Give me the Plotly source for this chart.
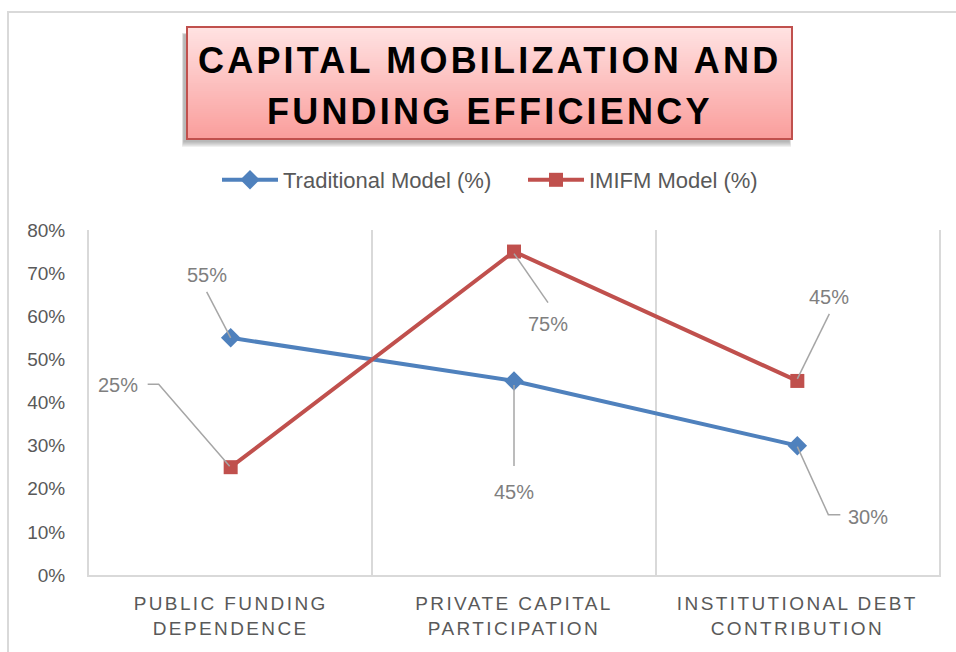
import plotly.graph_objects as go

# ---------------- data ----------------
categories = ["PUBLIC FUNDING DEPENDENCE", "PRIVATE CAPITAL PARTICIPATION", "INSTITUTIONAL DEBT CONTRIBUTION"]
category_lines = [["PUBLIC FUNDING", "DEPENDENCE"], ["PRIVATE CAPITAL", "PARTICIPATION"], ["INSTITUTIONAL DEBT", "CONTRIBUTION"]]
traditional = [55, 45, 30]
imifm = [25, 75, 45]
series_names = ["Traditional Model (%)", "IMIFM Model (%)"]
y_tick_vals = [0, 10, 20, 30, 40, 50, 60, 70, 80]
y_tick_text = ["0%", "10%", "20%", "30%", "40%", "50%", "60%", "70%", "80%"]
title_lines = ["CAPITAL MOBILIZATION AND", "FUNDING EFFICIENCY"]

# ---------------- layout geometry ----------------
W, H = 956, 652
L, R, T, B = 89, 939, 230, 575


def px(xp):
    return (xp - L) / (R - L)


def py(yp):
    return (B - yp) / (B - T)


BLUE = "#4f81bd"
RED = "#c0504d"
TXT = "#595959"
LBL = "#7f7f7f"
LEADER = "#a6a6a6"
GRID = "#d9d9d9"
FONT = "Liberation Sans"

fig = go.Figure()
fig.add_trace(go.Scatter(
    x=categories, y=traditional, name=series_names[0], mode="lines+markers",
    line=dict(color=BLUE, width=4), marker=dict(symbol="diamond", size=15, color=BLUE),
))
fig.add_trace(go.Scatter(
    x=categories, y=imifm, name=series_names[1], mode="lines+markers",
    line=dict(color=RED, width=4), marker=dict(symbol="square", size=14, color=RED),
))

sp = lambda s, ls: f'<span style="letter-spacing:{ls}px">{s}</span>'
tick_text = [sp(a, 2.4) + "<br>" + sp(b, 2.4) for a, b in category_lines]

shapes = []
annotations = []

# outer chart border
shapes.append(dict(type="rect", xref="paper", yref="paper", x0=px(8), x1=px(970), y0=py(12), y1=py(670),
                   line=dict(color=GRID, width=2), fillcolor="rgba(0,0,0,0)", layer="below"))

# title box: shadow + gradient + border
bx0, bx1, by0, by1 = 187, 792, 27, 139
for i in range(6):
    shapes.append(dict(type="rect", xref="paper", yref="paper",
                       x0=px(bx0 - 5 + i * 0.3), x1=px(bx1 - 1 - i * 0.3), y0=py(by0 + 6 + i * 0.3), y1=py(by1 + 8 - i * 1.0),
                       line=dict(width=0), fillcolor="rgba(120,120,120,0.11)"))
n = 56
top_c = (255, 226, 226)
bot_c = (250, 158, 156)
for i in range(n):
    t = i / (n - 1)
    c = tuple(int(round(top_c[k] + (bot_c[k] - top_c[k]) * t)) for k in range(3))
    ya = by0 + (by1 - by0) * i / n
    yb = by0 + (by1 - by0) * (i + 1) / n
    shapes.append(dict(type="rect", xref="paper", yref="paper", x0=px(bx0), x1=px(bx1), y0=py(ya), y1=py(yb + 0.6),
                       line=dict(width=0), fillcolor="rgb(%d,%d,%d)" % c))
shapes.append(dict(type="rect", xref="paper", yref="paper", x0=px(bx0), x1=px(bx1), y0=py(by0), y1=py(by1),
                   line=dict(color=RED, width=2), fillcolor="rgba(0,0,0,0)"))

for line_text, yc in zip(title_lines, [60, 111]):
    annotations.append(dict(xref="paper", yref="paper", x=px((bx0 + bx1) / 2), y=py(yc), xanchor="center", yanchor="middle",
                            text="<b>" + sp(line_text, 3.2) + "</b>",
                            showarrow=False, font=dict(family=FONT, size=36, color="#000000"), align="center"))

# data labels with leader lines (offsets in pixels relative to each point)
label_specs = [
    # (series values, index, label dx, label dy(up), leader path)
    (traditional, 0, -24, 63, "M0,0 L-24,46"),
    (traditional, 1, 0, -111, "M0,-4 L0,-85"),
    (traditional, 2, 71, -71, "M0,-1 L31,-69 L43,-69"),
    (imifm, 0, -113, 82, "M-1,1 L-72,83 L-83,83"),
    (imifm, 1, 34, -72, "M0,-2 L34,-51"),
    (imifm, 2, 32, 84, "M0,2 L32,67"),
]
for vals, i, dx, dy, path in label_specs:
    annotations.append(dict(x=i, y=vals[i], xref="x", yref="y", text=f"{vals[i]}%", showarrow=False,
                            xshift=dx, yshift=dy, font=dict(family=FONT, size=20, color=LBL)))
    shapes.append(dict(type="path", xref="x", yref="y", xsizemode="pixel", ysizemode="pixel",
                       xanchor=i, yanchor=vals[i], path=path, line=dict(color=LEADER, width=1.5)))

fig.update_layout(
    width=W, height=H,
    margin=dict(l=L, r=W - R, t=T, b=H - B, pad=0),
    paper_bgcolor="white", plot_bgcolor="white",
    font=dict(family=FONT, color=TXT),
    showlegend=True,
    legend=dict(orientation="h", xref="paper", yref="paper", x=px(217), y=py(180), xanchor="left", yanchor="middle",
                font=dict(family=FONT, size=22, color=TXT), itemwidth=56, entrywidth=235, entrywidthmode="pixels",
                bgcolor="rgba(0,0,0,0)", traceorder="normal", itemclick=False),
    xaxis=dict(type="category", range=[-0.5, 2.5], tickson="boundaries", showgrid=True, gridcolor=GRID, gridwidth=2,
               tickvals=categories, ticktext=tick_text, ticks="", showline=True, linecolor=GRID, linewidth=2,
               ticklabelstandoff=10,
               tickfont=dict(family=FONT, size=19, color=TXT), zeroline=False, fixedrange=True),
    yaxis=dict(range=[0, 80], tickvals=y_tick_vals, ticktext=y_tick_text, showgrid=False, zeroline=False,
               showline=True, mirror=True, linecolor=GRID, linewidth=2, ticks="", ticklabelstandoff=18,
               tickfont=dict(family=FONT, size=19, color=TXT), fixedrange=True),
    shapes=shapes,
    annotations=annotations,
)

fig.write_html("out.html", config={"displayModeBar": False},
               post_script="document.body.style.margin='0px';")
